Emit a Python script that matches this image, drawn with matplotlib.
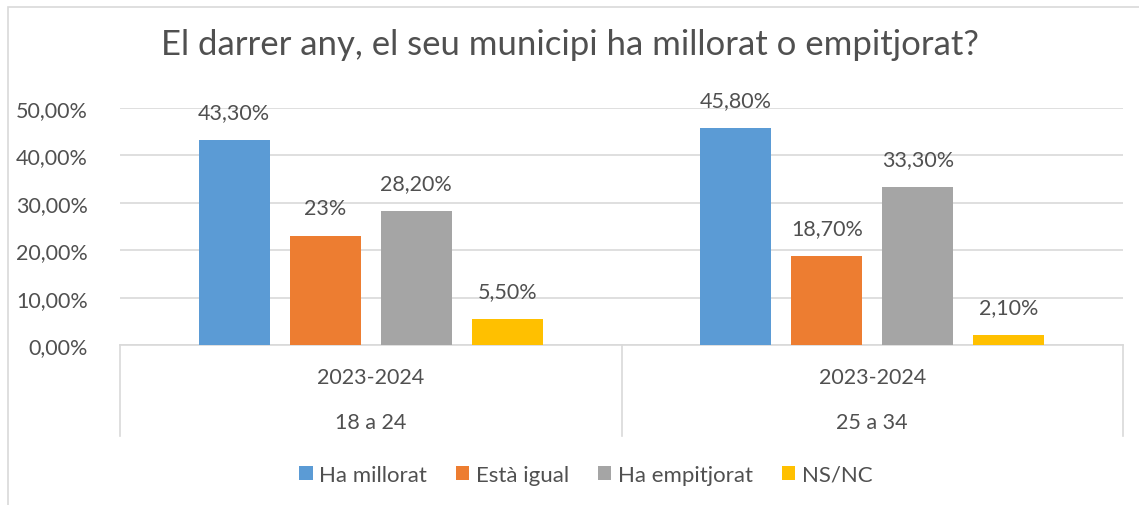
import matplotlib.pyplot as plt
from matplotlib.patches import Rectangle
from matplotlib.transforms import blended_transform_factory
import numpy as np

# data
years = ['2023-2024', '2023-2024']
ages = ['18 a 24', '25 a 34']
series = ['Ha millorat', 'Està igual', 'Ha empitjorat', 'NS/NC']
values = {
    'Ha millorat': [0.433, 0.458],
    'Està igual': [0.23, 0.187],
    'Ha empitjorat': [0.282, 0.333],
    'NS/NC': [0.055, 0.021],
}
labels = {
    'Ha millorat': ['43,30%', '45,80%'],
    'Està igual': ['23%', '18,70%'],
    'Ha empitjorat': ['28,20%', '33,30%'],
    'NS/NC': ['5,50%', '2,10%'],
}
colors = ['#5b9bd5', '#ed7d31', '#a5a5a5', '#ffc000']
yticks = [0, 0.1, 0.2, 0.3, 0.4, 0.5]
ytick_labels = ['0,00%', '10,00%', '20,00%', '30,00%', '40,00%', '50,00%']

plt.rcParams['font.family'] = ['Lato', 'DejaVu Sans']
txt = '#505050'
fs = 15.5

fig = plt.figure(figsize=(11.39, 5.06), dpi=100)
# chart area border
fig.patches.append(Rectangle((8 / 1139, -0.1), 1.2, 1 - 8 / 506 + 0.1,
                             transform=fig.transFigure, fill=False,
                             edgecolor='#d9d9d9', linewidth=1.2))

ax = fig.add_axes([120 / 1139, 1 - 346 / 506, 1003 / 1139, 237 / 506])

x = np.arange(len(ages))
width = 0.142
step = 0.1815
for i, (name, c) in enumerate(zip(series, colors)):
    off = (i - 1.5) * step
    bars = ax.bar(x + off, values[name], width, color=c, label=name, zorder=3)
    ax.bar_label(bars, labels=labels[name], padding=13, color=txt, fontsize=fs)

ax.set_xlim(-0.5, 1.5)
ax.set_ylim(0, 0.5)
ax.set_yticks(yticks)
ax.set_yticklabels(ytick_labels, color=txt, fontsize=fs)
ax.tick_params(axis='y', length=0, pad=23)
ax.set_xticks([])
ax.grid(axis='y', color='#d9d9d9', linewidth=1.2, zorder=0)
for s in ['top', 'right', 'left']:
    ax.spines[s].set_visible(False)
ax.spines['bottom'].set_color('#d9d9d9')
ax.spines['bottom'].set_linewidth(1.2)

# two-level category axis
tr = blended_transform_factory(ax.transData, ax.transAxes)
for i in range(len(ages)):
    ax.text(x[i], -0.135, years[i], transform=tr, ha='center', va='center',
            color=txt, fontsize=fs)
    ax.text(x[i], -0.325, ages[i], transform=tr, ha='center', va='center',
            color=txt, fontsize=fs)
for xs in [-0.5, 0.5, 1.5]:
    ax.axvline(xs, ymin=-0.384, ymax=0, color='#d9d9d9', linewidth=1.2,
               clip_on=False)

fig.text(0.5, 1 - 45 / 506, 'El darrer any, el seu municipi ha millorat o empitjorat?',
         ha='center', va='center', color=txt, fontsize=25)

fig.legend(loc='center', bbox_to_anchor=(586 / 1139, 1 - 476 / 506), ncol=4,
           frameon=False, handlelength=0.6, handleheight=0.6, handletextpad=0.3,
           columnspacing=1.3, fontsize=16, labelcolor=txt)

fig.savefig('out.png', dpi=100)
